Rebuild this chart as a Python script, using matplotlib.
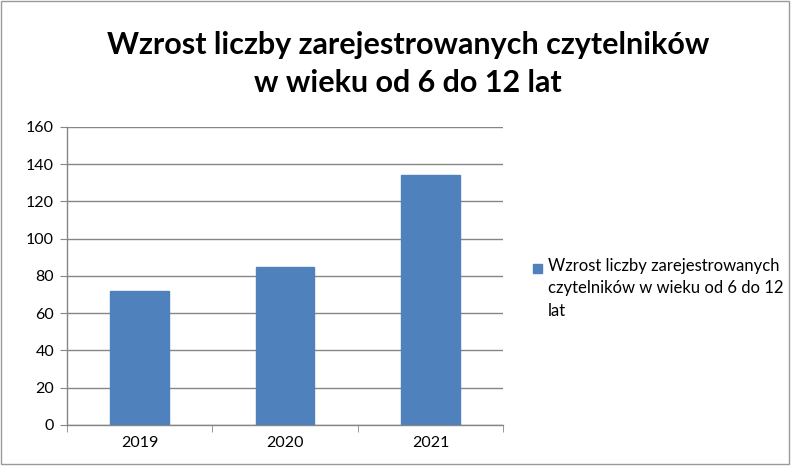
import matplotlib
matplotlib.use("Agg")
import matplotlib.pyplot as plt
from matplotlib.patches import Rectangle

plt.rcParams['font.family'] = ['Lato', 'DejaVu Sans']

categories = ["2019", "2020", "2021"]
values = [72, 85, 134]
series_label = "Wzrost liczby zarejestrowanych\nczytelników w wieku od 6 do 12\nlat"
title = "Wzrost liczby zarejestrowanych czytelników\nw wieku od 6 do 12 lat"
yticks = [0, 20, 40, 60, 80, 100, 120, 140, 160]
bar_color = "#4F81BD"

fig = plt.figure(figsize=(7.91, 4.66), dpi=100)
ax = fig.add_axes([0.0843, 0.088, 0.552, 0.640])

x = list(range(len(categories)))
ax.bar(x, values, width=0.4, color=bar_color, edgecolor=bar_color, zorder=3)
ax.set_xlim(-0.5, len(categories) - 0.5)
ax.set_ylim(0, 160)
ax.set_yticks(yticks)
ax.set_xticks(x)
ax.set_xticklabels(categories)
ax.set_xticks([i + 0.5 for i in range(-1, len(categories))], minor=True)
ax.tick_params(axis='x', which='major', length=0, pad=8, labelsize=11.5)
ax.tick_params(axis='x', which='minor', length=5, color="#868686", direction='out')
ax.tick_params(axis='y', length=5, color="#868686", labelsize=11.5, pad=4)
ax.yaxis.grid(True, color="#868686", linewidth=1.0, zorder=0)
for s in ['top', 'right']:
    ax.spines[s].set_visible(False)
for s in ['left', 'bottom']:
    ax.spines[s].set_color("#868686")
    ax.spines[s].set_linewidth(1.0)

fig.text(0.516, 0.862, title, ha='center', va='center', fontsize=22,
         fontweight='bold', linespacing=1.45)

# legend (manual, to match wrapped label layout)
W, H = 791, 466
fig.patches.append(Rectangle((533 / W, 1 - 273 / H), 9 / W, 9 / H,
                             transform=fig.transFigure, facecolor=bar_color,
                             edgecolor=bar_color))
fig.text(548 / W, 1 - 258 / H, series_label, ha='left', va='top', fontsize=12,
         linespacing=1.5)

fig.patches.append(Rectangle((0.001, 0.004), 0.996, 0.994, transform=fig.transFigure,
                             fill=False, edgecolor="#9a9a9a", linewidth=1))

fig.savefig("out.png", dpi=100)
